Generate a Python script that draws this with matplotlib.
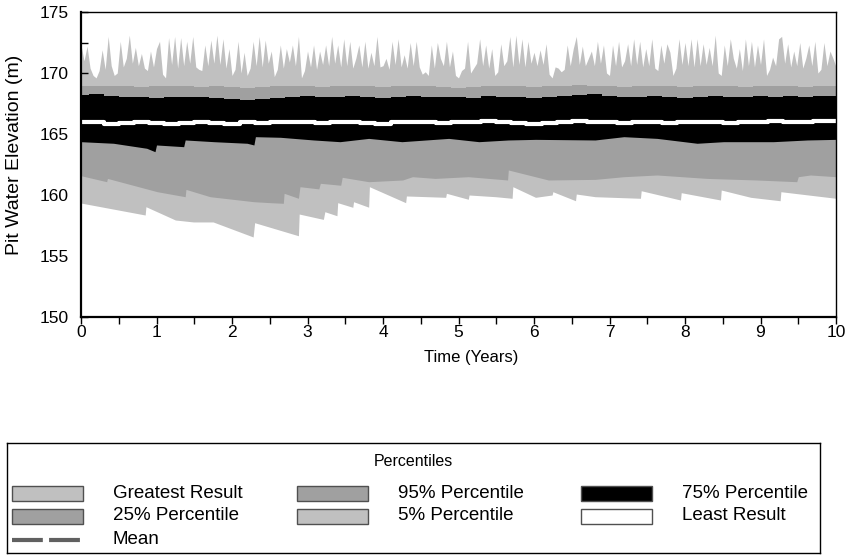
import matplotlib
matplotlib.use("Agg")
import matplotlib.pyplot as plt
import numpy as np
from matplotlib.patches import Rectangle
from matplotlib.lines import Line2D
from matplotlib.ticker import MultipleLocator

plt.rcParams['font.family'] = ['Liberation Sans', 'DejaVu Sans']

# greatest result, sampled every 0.04 years
greatest = [
    172.3, 171.0, 172.2, 170.4, 169.8, 169.6, 170.2, 171.9, 170.3, 173.0,
    170.6, 169.8, 170.0, 172.6, 170.5, 171.2, 173.1, 170.8, 172.1, 170.6,
    171.6, 170.4, 170.2, 171.8, 170.5, 172.0, 172.6, 169.9, 169.6, 172.9,
    170.7, 173.0, 170.4, 172.9, 170.6, 172.6, 170.8, 173.0, 170.5, 170.3,
    170.2, 172.3, 170.6, 172.7, 170.8, 173.1, 170.7, 172.8, 170.4, 172.0,
    169.8, 170.3, 172.6, 170.0, 171.7, 169.8, 170.4, 172.6, 170.6, 173.0,
    170.5, 172.7, 170.8, 171.8, 169.7, 170.3, 172.3, 170.4, 172.0, 170.9,
    172.3, 170.6, 173.0, 169.6, 170.2, 171.8, 170.5, 172.3, 170.3, 171.8,
    170.7, 172.3, 170.6, 173.0, 170.8, 172.3, 170.5, 172.8, 170.6, 172.6,
    170.4, 171.2, 172.3, 170.5, 172.6, 170.4, 171.7, 170.6, 173.0, 170.5,
    170.6, 171.2, 170.3, 172.6, 170.7, 172.8, 170.5, 171.5, 170.4, 172.5,
    170.6, 172.6, 170.5, 169.9, 170.1, 169.8, 172.3, 170.4, 172.5, 171.2,
    170.6, 172.6, 170.5, 171.8, 169.8, 169.6, 170.2, 170.4, 172.6, 170.0,
    170.4, 170.8, 172.8, 170.6, 172.3, 170.4, 172.0, 169.8, 170.1, 172.4,
    170.6, 171.0, 173.0, 170.5, 173.1, 170.7, 172.8, 170.5, 172.6, 170.8,
    171.7, 170.6, 171.9, 170.7, 172.4, 169.9, 169.6, 170.5, 170.4, 170.1,
    170.3, 172.3, 170.6, 172.0, 173.0, 170.7, 172.2, 170.6, 171.2, 171.8,
    170.6, 172.6, 170.8, 172.3, 170.0, 169.8, 172.3, 170.6, 172.6, 170.5,
    171.0, 172.4, 170.6, 172.8, 170.7, 172.6, 170.5, 172.0, 170.6, 172.8,
    170.4, 170.2, 172.3, 170.8, 172.4, 171.7, 169.8, 170.4, 172.8, 170.7,
    172.5, 170.6, 172.8, 170.5, 172.8, 170.6, 172.4, 170.7, 172.1, 170.6,
    173.1, 170.0, 169.8, 172.3, 170.6, 172.8, 171.2, 170.4, 172.0, 170.2,
    172.8, 170.6, 172.6, 170.5, 172.3, 170.7, 172.8, 169.8, 170.3, 171.3,
    170.6, 172.8, 173.0, 170.8, 172.4, 170.5, 171.8, 170.6, 172.5, 170.4,
    171.2, 172.3, 170.6, 172.6, 170.0, 170.3, 172.5, 170.6, 171.8, 171.2,
    170.5,
]
t_greatest = np.linspace(0, 10, len(greatest))

# 95%, 75% and median, sampled every 0.2 years
p95 = [
    168.95, 168.90, 168.95, 168.90, 168.85, 168.90, 168.95, 168.90, 168.85, 168.90,
    168.85, 168.80, 168.85, 168.90, 168.95, 168.90, 168.85, 168.90, 168.95, 168.90,
    168.85, 168.90, 168.95, 168.90, 168.85, 168.80, 168.85, 168.90, 168.95, 168.90,
    168.85, 168.90, 168.95, 169.00, 168.95, 168.90, 168.85, 168.90, 168.95, 168.90,
    168.85, 168.90, 168.95, 168.90, 168.85, 168.90, 168.95, 168.90, 168.85, 168.90,
    168.95,
]
p75 = [
    168.20, 168.25, 168.10, 168.05, 168.00, 167.95, 168.00, 168.05, 168.00, 167.95,
    167.90, 167.80, 167.85, 167.95, 168.05, 168.10, 168.05, 168.00, 168.10, 168.05,
    167.95, 168.05, 168.10, 168.00, 168.05, 168.00, 167.95, 168.10, 168.05, 168.00,
    167.95, 168.05, 168.10, 168.20, 168.25, 168.10, 168.00, 168.05, 168.10, 168.00,
    167.95, 168.05, 168.10, 168.05, 168.00, 168.10, 168.05, 168.15, 168.05, 168.10,
    168.15,
]
median = [
    166.00, 165.95, 165.85, 165.90, 165.95, 165.90, 165.85, 165.90, 165.95, 165.90,
    165.85, 165.95, 165.90, 165.95, 166.00, 165.95, 165.90, 166.00, 165.95, 165.90,
    165.85, 165.95, 166.00, 165.95, 165.90, 166.00, 165.95, 166.05, 165.95, 165.90,
    165.85, 165.90, 166.00, 166.05, 166.00, 165.95, 165.90, 165.95, 166.00, 165.90,
    165.95, 166.00, 165.95, 165.90, 165.95, 166.00, 166.05, 165.95, 166.00, 166.05,
    166.05,
]
t_band = np.linspace(0, 10, len(p95))

# 25%, 5% and least result, read at break points (time, value)
t_p25 = [0.0, 0.43, 0.87, 0.98, 1.00, 1.36, 1.38, 1.76, 2.20, 2.29, 2.31, 2.64, 3.08,
         3.43, 3.81, 4.25, 4.87, 5.27, 5.66, 6.02, 6.81, 7.19, 7.63, 8.16, 8.51, 9.17,
         9.62, 10.0]
p25 = [164.37, 164.24, 163.83, 163.55, 164.10, 163.96, 164.51, 164.37, 164.24, 164.10,
       164.78, 164.73, 164.51, 164.37, 164.64, 164.37, 164.64, 164.37, 164.51, 164.56,
       164.51, 164.78, 164.64, 164.24, 164.37, 164.37, 164.51, 164.56]

t_p05 = [0.0, 0.34, 0.35, 1.01, 1.38, 1.39, 1.71, 2.29, 2.51, 2.68, 2.69, 2.88, 2.90,
         3.15, 3.17, 3.44, 3.46, 3.81, 4.26, 4.39, 4.69, 5.13, 5.65, 5.66, 6.19, 6.81,
         7.19, 7.63, 8.29, 8.95, 9.48, 9.50, 9.66, 10.0]
p05 = [161.58, 161.09, 161.36, 160.27, 159.86, 160.46, 159.86, 159.45, 159.37, 159.32,
       160.14, 159.73, 160.68, 160.50, 160.96, 160.80, 161.45, 161.09, 161.23, 161.50,
       161.36, 161.50, 161.23, 162.05, 161.23, 161.28, 161.50, 161.64, 161.36, 161.23,
       161.09, 161.50, 161.64, 161.50]

t_least = [0.0, 0.85, 0.86, 1.25, 1.49, 1.75, 2.28, 2.30, 2.88, 2.89, 3.21, 3.23, 3.39,
           3.40, 3.60, 3.61, 3.81, 3.82, 4.30, 4.31, 4.83, 4.84, 5.13, 5.14, 5.49, 5.71,
           5.72, 6.02, 6.24, 6.25, 6.55, 6.56, 6.81, 7.41, 7.42, 7.94, 7.95, 8.47, 8.48,
           8.87, 9.26, 9.27, 10.0]
least = [159.34, 158.36, 159.04, 157.95, 157.79, 157.79, 156.56, 157.73, 156.66, 158.44,
         158.00, 158.63, 158.30, 159.37, 158.99, 159.45, 159.00, 160.68, 159.37, 159.92,
         159.81, 160.14, 159.65, 160.00, 159.86, 159.73, 160.68, 159.81, 160.00, 160.27,
         159.53, 160.08, 159.86, 159.73, 160.35, 159.59, 160.19, 159.59, 160.41, 159.81,
         159.53, 160.27, 159.73]

light = '#c0c0c0'
dark = '#a0a0a0'

fig = plt.figure(figsize=(8.56, 5.55), dpi=100)
ax = fig.add_axes([81 / 856, 1 - 317 / 555, 755 / 856, 305 / 555])

y0 = 150
# paint each curve down to the floor, top layer first
ax.fill_between(t_greatest, greatest, y0, color=light, lw=0, zorder=1)
ax.fill_between(t_band, p95, y0, color=dark, lw=0, step='mid', zorder=2)
ax.fill_between(t_band, p75, y0, color='black', lw=0, step='mid', zorder=3)
ax.step(t_band, median, where='mid', color='white', lw=3, zorder=4)
ax.fill_between(t_p25, p25, y0, color=dark, lw=0, zorder=5)
ax.fill_between(t_p05, p05, y0, color=light, lw=0, zorder=6)
ax.fill_between(t_least, least, y0, color='white', lw=0, zorder=7)

ax.set_xlim(0, 10)
ax.set_ylim(150, 175)
ax.xaxis.set_major_locator(MultipleLocator(1))
ax.xaxis.set_minor_locator(MultipleLocator(0.5))
ax.yaxis.set_major_locator(MultipleLocator(5))
ax.yaxis.set_minor_locator(MultipleLocator(2.5))
ax.tick_params(axis='x', which='both', direction='out', length=5, width=1, labelsize=12.5, pad=1)
ax.tick_params(axis='y', which='both', direction='in', length=5, width=1, labelsize=12.5, pad=9)
for s in ax.spines.values():
    s.set_linewidth(1)
    s.set_zorder(10)
ax.spines['left'].set_linewidth(1.6)
ax.spines['bottom'].set_linewidth(1.6)

ax.set_xlabel('Time (Years)', fontsize=12)
ax.xaxis.set_label_coords((471 - 81) / 755, -(350 - 317) / 305)
ax.set_ylabel('Pit Water Elevation (m)', fontsize=14)
ax.yaxis.set_label_coords(-(81 - 23) / 755, (317 - 155) / 305)

# legend box drawn by hand, in pixel units of the box
lg = fig.add_axes([7 / 856, 1 - 553 / 555, 813 / 856, 110 / 555])
lg.set_xlim(0, 813)
lg.set_ylim(110, 0)
lg.set_xticks([])
lg.set_yticks([])
for s in lg.spines.values():
    s.set_linewidth(1)

lg.text(406, 18, 'Percentiles', ha='center', va='center', fontsize=11.5)

entries = [
    ('Greatest Result', light), ('95% Percentile', dark), ('75% Percentile', 'black'),
    ('25% Percentile', dark), ('5% Percentile', light), ('Least Result', 'white'),
]
col_x = [5, 290, 574]
row_y = [50, 73, 97]
for i, (name, col) in enumerate(entries):
    cx = col_x[i % 3]
    ry = row_y[i // 3]
    lg.add_patch(Rectangle((cx, ry - 7.5), 71, 15, facecolor=col, edgecolor='#505050', lw=1))
    lg.text(cx + 101, ry, name, ha='left', va='center', fontsize=13.5)

lg.add_line(Line2D([col_x[0], col_x[0] + 71], [row_y[2], row_y[2]], color='#606060',
                   lw=3, dashes=(7.4, 1.5)))
lg.text(col_x[0] + 101, row_y[2], 'Mean', ha='left', va='center', fontsize=13.5)

fig.savefig('out.png', dpi=100)
